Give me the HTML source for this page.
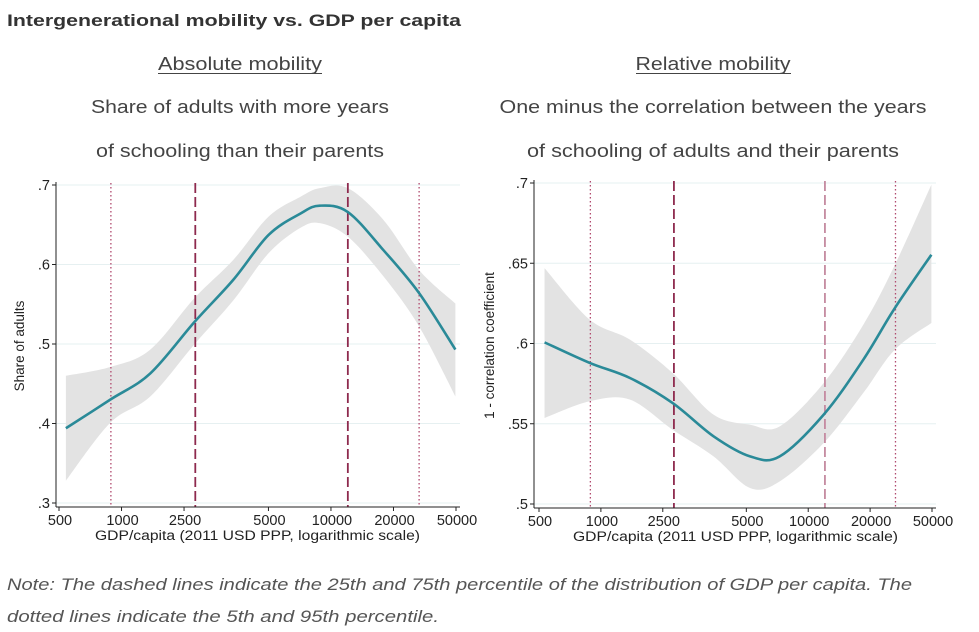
<!DOCTYPE html>
<html><head><meta charset="utf-8"><style>
html,body{margin:0;padding:0;background:#fff;}
svg{display:block;}
text{font-family:"Liberation Sans",Arial,sans-serif;}
</style></head><body>
<svg id="root" width="979" height="632" viewBox="0 0 979 632">
<text x="7" y="26" font-size="17" font-weight="bold" fill="#333" textLength="454" lengthAdjust="spacingAndGlyphs">Intergenerational mobility vs. GDP per capita</text>

<text x="240" y="70" font-size="18" fill="#444" text-anchor="middle" textLength="164" lengthAdjust="spacingAndGlyphs">Absolute mobility</text>
<line x1="158" y1="73.5" x2="322" y2="73.5" stroke="#444" stroke-width="1"/>
<text x="240" y="113" font-size="18" fill="#444" text-anchor="middle" textLength="298" lengthAdjust="spacingAndGlyphs">Share of adults with more years</text>
<text x="240" y="157" font-size="18" fill="#444" text-anchor="middle" textLength="288" lengthAdjust="spacingAndGlyphs">of schooling than their parents</text>

<text x="713" y="70" font-size="18" fill="#444" text-anchor="middle" textLength="155" lengthAdjust="spacingAndGlyphs">Relative mobility</text>
<line x1="636" y1="73.5" x2="791" y2="73.5" stroke="#444" stroke-width="1"/>
<text x="713" y="113" font-size="18" fill="#444" text-anchor="middle" textLength="427" lengthAdjust="spacingAndGlyphs">One minus the correlation between the years</text>
<text x="713" y="157" font-size="18" fill="#444" text-anchor="middle" textLength="372" lengthAdjust="spacingAndGlyphs">of schooling of adults and their parents</text>

<g id="left"></g>
<g id="right"></g>

<text x="7" y="590" font-size="17" font-style="italic" fill="#555" textLength="905" lengthAdjust="spacingAndGlyphs">Note: The dashed lines indicate the 25th and 75th percentile of the distribution of GDP per capita. The</text>
<text x="7" y="622" font-size="17" font-style="italic" fill="#555" textLength="432" lengthAdjust="spacingAndGlyphs">dotted lines indicate the 5th and 95th percentile.</text>
</svg>
<script>
// x axis is in "axis units" (evenly spaced as in the original Stata log-scale axis)
const xTickLabels = ["500","1000","2500","5000","10000","20000","50000"];
const xTickUnits = [0,1,2,3.35,4.35,5.35,6.35];
const refLineUnits = [0.83,2.18,4.62,5.76];
const refLineKinds = ["dotted","dashed","dashed","dotted"];

const leftX = [0.11,0.82,1.46,2.17,2.79,3.35,3.86,4.17,4.62,5.19,5.76,6.34];
const leftFit = [0.394,0.430,0.463,0.528,0.581,0.637,0.664,0.674,0.666,0.618,0.564,0.493];
const leftHi = [0.460,0.471,0.493,0.558,0.606,0.660,0.685,0.696,0.696,0.656,0.593,0.551];
const leftLo = [0.328,0.401,0.434,0.500,0.555,0.614,0.646,0.652,0.635,0.585,0.522,0.434];
const leftYTicks = [0.3,0.4,0.5,0.6,0.7];
const leftYLabels = [".3",".4",".5",".6",".7"];

const rightX = [0.09,0.82,1.47,2.16,2.82,3.41,3.89,4.60,5.24,5.75,6.34];
const rightFit = [0.6007,0.5879,0.5785,0.5629,0.5422,0.5297,0.5297,0.5557,0.5899,0.6221,0.6553];
const rightHi = [0.647,0.6149,0.6024,0.5816,0.5557,0.5494,0.5484,0.5754,0.6117,0.649,0.699];
const rightLo = [0.5536,0.564,0.565,0.5463,0.5297,0.510,0.5141,0.538,0.5692,0.5962,0.6128];
const rightYTicks = [0.5,0.55,0.6,0.65,0.7];
const rightYLabels = [".5",".55",".6",".65",".7"];

const NS="http://www.w3.org/2000/svg";
function mk(parent,tag,attrs){const e=document.createElementNS(NS,tag);for(const k in attrs)e.setAttribute(k,attrs[k]);parent.appendChild(e);return e;}
function smooth(pts){
  let d="M"+pts[0][0]+","+pts[0][1];
  for(let i=0;i<pts.length-1;i++){
    const p0=pts[Math.max(i-1,0)],p1=pts[i],p2=pts[i+1],p3=pts[Math.min(i+2,pts.length-1)];
    const c1=[p1[0]+(p2[0]-p0[0])/6,p1[1]+(p2[1]-p0[1])/6];
    const c2=[p2[0]-(p3[0]-p1[0])/6,p2[1]-(p3[1]-p1[1])/6];
    d+=" C"+c1[0]+","+c1[1]+" "+c2[0]+","+c2[1]+" "+p2[0]+","+p2[1];
  }
  return d;
}
function chart(g,o){
  const sx=u=>o.x0+(u-0)*(o.x1-o.x0)/6.35;
  const sy=v=>o.yb+(v-o.vmin)*(o.yt-o.yb)/(o.vmax-o.vmin);
  o.yt2.forEach((v,i)=>{
    const l=mk(g,"line",{x1:o.ax,x2:o.right,y1:sy(v),y2:sy(v),stroke:"#e6f0f1","stroke-width":1});
    
    
  });
  const up=o.xs.map((u,i)=>[sx(u),sy(o.hi[i])]);
  const lo=o.xs.map((u,i)=>[sx(u),sy(o.lo[i])]).reverse();
  let d=smooth(up)+" L"+lo[0][0]+","+lo[0][1]+smooth(lo).replace(/^M[^C]*/," ")+" Z";
  const band=mk(g,"path",{d:d,fill:"#e3e3e3",stroke:"none"});
  
  
  refLineUnits.forEach((u,i)=>{
    const dotted=refLineKinds[i]==="dotted";
    const col=dotted?"#b04a6e":(o.lightRight&&i===2?"#c48aa0":"#8e2a4e");
    const l=mk(g,"line",{x1:sx(u),x2:sx(u),y1:o.yt-2,y2:o.ay,stroke:col,"stroke-width":dotted?1.3:1.8,"stroke-dasharray":dotted?"1.5,2.5":"10,4"});
    
    
  });
  const fit=mk(g,"path",{d:smooth(o.xs.map((u,i)=>[sx(u),sy(o.fit[i])])),fill:"none",stroke:"#2a8a98","stroke-width":2.6});
  
  
  const ya=mk(g,"line",{x1:o.ax,x2:o.ax,y1:o.yt-3,y2:o.ay,stroke:"#222","stroke-width":1});
  
  
  const xa=mk(g,"line",{x1:o.ax,x2:o.right,y1:o.ay,y2:o.ay,stroke:"#222","stroke-width":1});
  
  
  o.yt2.forEach((v,i)=>{
    mk(g,"line",{x1:o.ax-4,x2:o.ax,y1:sy(v),y2:sy(v),stroke:"#222"});
    const t=mk(g,"text",{x:o.ax-6,y:sy(v)+5,"font-size":14.5,"text-anchor":"end",fill:"#222"});
    t.textContent=o.ylab[i];
    
    
  });
  xTickUnits.forEach((u,i)=>{
    mk(g,"line",{x1:sx(u),x2:sx(u),y1:o.ay,y2:o.ay+4,stroke:"#222"});
    const t=mk(g,"text",{x:sx(u)+1,y:o.ay+18,"font-size":14.5,"text-anchor":"middle",fill:"#222"});
    t.textContent=xTickLabels[i];
    
    
  });
  const xt=mk(g,"text",{x:(o.x0+o.x1)/2,y:o.ay+33,"font-size":13.5,"text-anchor":"middle",fill:"#222",textLength:325,lengthAdjust:"spacingAndGlyphs"});
  xt.textContent="GDP/capita (2011 USD PPP, logarithmic scale)";
  
  
  const cy=(o.yt+o.ay)/2;
  const yt=mk(g,"text",{x:o.ylx,y:cy,"font-size":13.5,"text-anchor":"middle",fill:"#222",transform:"rotate(-90 "+o.ylx+" "+cy+")"});
  yt.textContent=o.ytitle;
  
  
}
chart(document.getElementById("left"),{x0:59,x1:456,ax:56,right:460,ay:507,yt:185,yb:503,vmin:0.3,vmax:0.7,
  xs:leftX,fit:leftFit,hi:leftHi,lo:leftLo,yt2:leftYTicks,ylab:leftYLabels,ylx:24,ytitle:"Share of adults"});
chart(document.getElementById("right"),{x0:539,x1:932,ax:534,right:936,ay:508,yt:183,yb:504,vmin:0.5,vmax:0.7,
  xs:rightX,fit:rightFit,hi:rightHi,lo:rightLo,yt2:rightYTicks,ylab:rightYLabels,ylx:494,ytitle:"1 - correlation coefficient",lightRight:true});
</script>
</body></html>
